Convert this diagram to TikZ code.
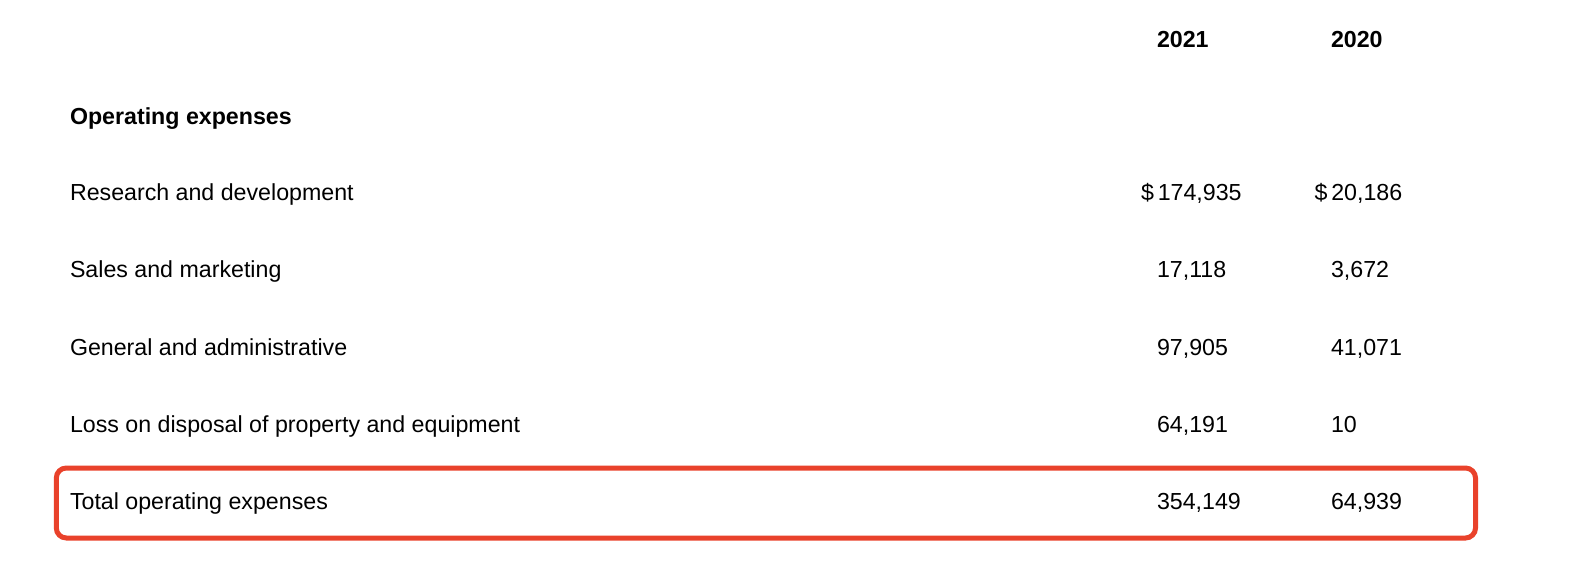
\documentclass[tikz,border=0pt]{standalone}
\usepackage{fontspec}
\setmainfont{Liberation Sans}
\definecolor{hlred}{RGB}{233,66,43}
\begin{document}
\begin{tikzpicture}[x=1pt,y=1pt,
  txt/.style={anchor=base west,inner sep=0pt,outer sep=0pt,font=\fontsize{23.2}{27}\selectfont},
  hdr/.style={txt,font=\fontsize{23.2}{27}\selectfont\bfseries},
  hlbox/.style={draw=hlred,line width=5pt,rounded corners=10pt}]
\useasboundingbox (0,0) rectangle (1570,568);
% headers
\node[hdr] (h21) at (1157,568-47.5) {2021};
\node[hdr] (h20) at (1331,568-47.5) {2020};
\node[hdr] (opx) at (70,568-125) {Operating expenses};
% rows
\node[txt] (l1) at (70,568-201) {Research and development};
\node[txt] (a1) at (1141,568-201) {\$\,174,935};
\node[txt] (b1) at (1314.5,568-201) {\$\,20,186};
\node[txt] (l2) at (70,568-278) {Sales and marketing};
\node[txt] (a2) at (1157,568-278) {17,118};
\node[txt] (b2) at (1331,568-278) {3,672};
\node[txt] (l3) at (70,568-355) {General and administrative};
\node[txt] (a3) at (1157,568-355) {97,905};
\node[txt] (b3) at (1331,568-355) {41,071};
\node[txt] (l4) at (70,568-432) {Loss on disposal of property and equipment};
\node[txt] (a4) at (1157,568-432) {64,191};
\node[txt] (b4) at (1331,568-432) {10};
\node[txt] (l5) at (70,568-509) {Total operating expenses};
\node[txt] (a5) at (1157,568-509) {354,149};
\node[txt] (b5) at (1331,568-509) {64,939};
% highlight
\draw[hlbox] (56.3,568-468) rectangle (1475.5,568-538);
\end{tikzpicture}
\end{document}
